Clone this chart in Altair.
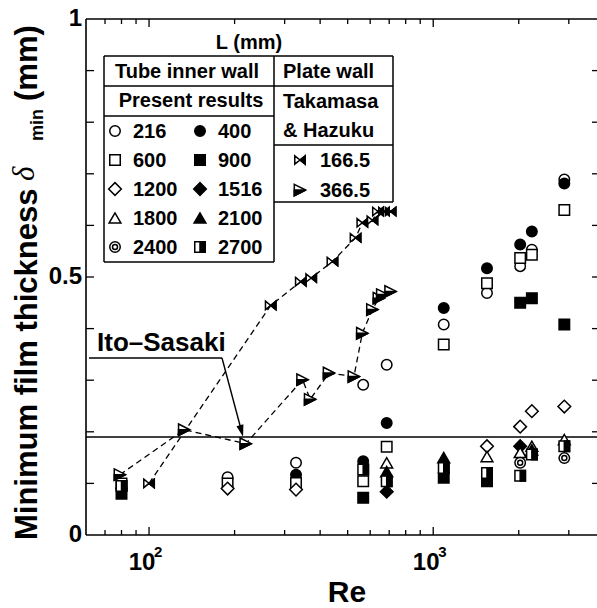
import altair as alt
import pandas as pd

FONT = "Liberation Sans"

# ---------------- data ----------------
# Present results, tube inner wall: L (mm) -> Re, delta_min (mm)
re_216 = [189, 329, 567, 686, 1089, 1546, 2023, 2224, 2893]
d_216 = [0.112, 0.140, 0.291, 0.330, 0.408, 0.469, 0.521, 0.553, 0.689]
re_400 = [80, 329, 567, 686, 1089, 1546, 2023, 2224, 2893]
d_400 = [0.090, 0.117, 0.143, 0.217, 0.440, 0.517, 0.563, 0.588, 0.681]
re_600 = [80, 189, 329, 567, 686, 1089, 1546, 2023, 2224, 2893]
d_600 = [0.100, 0.100, 0.101, 0.104, 0.171, 0.369, 0.488, 0.537, 0.543, 0.630]
re_900 = [80, 567, 1089, 1546, 2023, 2224, 2893]
d_900 = [0.080, 0.072, 0.111, 0.104, 0.450, 0.459, 0.408]
re_1200 = [189, 329, 1546, 2023, 2224, 2893]
d_1200 = [0.090, 0.088, 0.172, 0.210, 0.240, 0.249]
re_1516 = [686, 2023]
d_1516 = [0.084, 0.172]
re_1800 = [686, 1546, 2023, 2224, 2893]
d_1800 = [0.140, 0.152, 0.160, 0.172, 0.185]
re_2100 = [686, 1089, 2224]
d_2100 = [0.123, 0.150, 0.165]
re_2400 = [2023, 2893]
d_2400 = [0.140, 0.149]
re_2700 = [80, 567, 686, 1089, 1546, 2023, 2224, 2893]
d_2700 = [0.095, 0.127, 0.104, 0.130, 0.120, 0.115, 0.156, 0.172]

tube_L = [216, 400, 600, 900, 1200, 1516, 1800, 2100, 2400, 2700]

# Takamasa & Hazuku, plate wall
tk166_re = [100, 268, 342, 372, 442, 533, 563, 611, 639, 671, 708]
tk166_d = [0.100, 0.445, 0.491, 0.498, 0.530, 0.576, 0.605, 0.610, 0.627, 0.627, 0.627]
tk366_re = [79, 133, 219, 347, 369, 430, 526, 563, 611, 644, 662, 708]
tk366_d = [0.117, 0.204, 0.177, 0.301, 0.263, 0.314, 0.307, 0.391, 0.437, 0.459, 0.466, 0.472]

ito_sasaki = [0.19]

# axis ticks / labels
x_major = [100, 1000]
x_minor = [70, 80, 90, 200, 300, 400, 500, 600, 700, 800, 900, 2000, 3000]
x_label_exp = ["2", "3"]
y_ticks = [0.1, 0.2, 0.3, 0.4, 0.5, 0.6, 0.7, 0.8, 0.9]
y_label_vals = [0, 0.5, 1]
y_label_text = ["0", "0.5", "1"]

# ---------------- layout / style ----------------
W, H = 511, 516
xs = alt.Scale(type="log", domain=[60, 3770], nice=False)
ys = alt.Scale(domain=[0, 1], nice=False, zero=False)
X = lambda f: alt.X(f, scale=xs, axis=None)
Y = lambda f: alt.Y(f, scale=ys, axis=None)
dummy = pd.DataFrame({"k": [0]})

HALF_RIGHT = "M 0 -1 L 1 -1 L 1 1 L 0 1 Z"
TRI_R = "M -1 -1 L 1 0 L -1 1 Z"
TRI_R_LOW = "M -1 0 L 1 0 L -1 1 Z"
BOW = "M -1 -0.8 L 0 0 L -1 0.8 Z M 1 -0.8 L 0 0 L 1 0.8 Z"
BOW_R = "M 1 -0.8 L 0 0 L 1 0.8 Z"
ARROW = "M -0.6 -1 L 0.6 -1 L 0 1 Z"

styles = {
    216: [("circle", "white", 110)],
    400: [("circle", "black", 110)],
    600: [("square", "white", 110)],
    900: [("square", "black", 110)],
    1200: [("diamond", "white", 160)],
    1516: [("diamond", "black", 160)],
    1800: [("triangle-up", "white", 140)],
    2100: [("triangle-up", "black", 140)],
    2400: [("circle", "white", 110), ("circle", "white", 25)],
    2700: [("square", "white", 110), (HALF_RIGHT, "black", 110)],
    "166.5": [(BOW, "white", 110), (BOW_R, "black", 110)],
    "366.5": [(TRI_R, "white", 130), (TRI_R_LOW, "black", 130)],
}


def pts(chart_base, key, enc):
    out = []
    for shape, fill, size in styles[key]:
        out.append(
            chart_base.mark_point(shape=shape, size=size, filled=True, fill=fill,
                                  stroke="black", strokeWidth=1.5, opacity=1)
            .encode(**enc)
        )
    return out


def txt(s, x, y, size=20, align="left", baseline="middle", weight="bold",
        angle=0, style="normal", font=FONT):
    return alt.Chart(dummy).mark_text(
        text=s, fontSize=size, font=font, fontWeight=weight, fontStyle=style,
        align=align, baseline=baseline, angle=angle, color="black"
    ).encode(x=alt.value(x), y=alt.value(y))


def seg(x1, y1, x2, y2, w=1.5):
    return alt.Chart(dummy).mark_rule(color="black", strokeWidth=w).encode(
        x=alt.value(x1), y=alt.value(y1), x2=alt.value(x2), y2=alt.value(y2))


layers = []

# frame
layers += [seg(0, 0, 0, H, 1.6), seg(0, H, W, H, 1.6), seg(0, 0, W, 0, 1.6)]

# ticks (inward)
df_xmin = pd.DataFrame({"Re": x_minor})
df_xmaj = pd.DataFrame({"Re": x_major})
df_yt = pd.DataFrame({"v": y_ticks})
for df, ln in ((df_xmin, 5), (df_xmaj, 8)):
    layers.append(alt.Chart(df).mark_rule(color="black", strokeWidth=1.3).encode(
        x=X("Re:Q"), y=alt.value(H), y2=alt.value(H - ln)))
    layers.append(alt.Chart(df).mark_rule(color="black", strokeWidth=1.3).encode(
        x=X("Re:Q"), y=alt.value(0), y2=alt.value(ln)))
layers.append(alt.Chart(df_yt).mark_rule(color="black", strokeWidth=1.3).encode(
    y=Y("v:Q"), x=alt.value(0), x2=alt.value(8)))
layers.append(alt.Chart(df_yt).mark_rule(color="black", strokeWidth=1.3).encode(
    y=Y("v:Q"), x=alt.value(W - 5), x2=alt.value(W)))

# tick labels
df_yl = pd.DataFrame({"v": y_label_vals, "t": y_label_text})
layers.append(alt.Chart(df_yl).mark_text(
    font=FONT, fontSize=24, fontWeight="bold", align="right", baseline="middle",
    color="black").encode(y=Y("v:Q"), x=alt.value(-4), text="t:N"))
df_xl = pd.DataFrame({"Re": x_major, "base": ["10", "10"], "exp": x_label_exp})
layers.append(alt.Chart(df_xl).mark_text(
    font=FONT, fontSize=24, fontWeight="bold", align="center", baseline="alphabetic",
    dx=-7, color="black").encode(x=X("Re:Q"), y=alt.value(551), text="base:N"))
layers.append(alt.Chart(df_xl).mark_text(
    font=FONT, fontSize=15, fontWeight="bold", align="left", baseline="alphabetic",
    dx=5, color="black").encode(x=X("Re:Q"), y=alt.value(538), text="exp:N"))

# axis titles
layers.append(txt("Re", 261, 583, size=30, align="center", baseline="alphabetic"))
layers.append(txt("Minimum film thickness", -49, 521, size=31, angle=270,
                  baseline="alphabetic"))
layers.append(txt("δ", -52, 162, size=31, angle=270, baseline="alphabetic",
                  weight="normal", style="italic", font="Liberation Serif"))
layers.append(txt("min", -43, 122, size=18, angle=270, baseline="alphabetic"))
layers.append(txt("(mm)", -49, 82, size=31, angle=270, baseline="alphabetic"))

# Ito-Sasaki line and annotation
layers.append(alt.Chart(pd.DataFrame({"d": ito_sasaki})).mark_rule(
    color="black", strokeWidth=1.4).encode(y=Y("d:Q")))
layers.append(txt("Ito\u2013Sasaki", 11, 324, size=26))
layers.append(seg(3, 339, 136, 339, 1.4))
layers.append(seg(136, 339, 155.5, 412, 1.4))
layers.append(alt.Chart(dummy).mark_point(
    shape=ARROW, size=144, filled=True, color="black", opacity=1, angle=345
).encode(x=alt.value(155.5), y=alt.value(412)))

# Takamasa & Hazuku dashed lines
df_tk = pd.concat([
    pd.DataFrame({"Re": tk166_re, "d": tk166_d, "s": "166.5"}),
    pd.DataFrame({"Re": tk366_re, "d": tk366_d, "s": "366.5"}),
])
layers.append(alt.Chart(df_tk).mark_line(
    color="black", strokeWidth=1.3, strokeDash=[6, 4]
).encode(x=X("Re:Q"), y=Y("d:Q"), detail="s:N"))

# tube data markers
tube_re = [re_216, re_400, re_600, re_900, re_1200, re_1516, re_1800, re_2100,
           re_2400, re_2700]
tube_d = [d_216, d_400, d_600, d_900, d_1200, d_1516, d_1800, d_2100, d_2400,
          d_2700]
for L, r, d in zip(tube_L, tube_re, tube_d):
    base = alt.Chart(pd.DataFrame({"Re": r, "d": d}))
    layers += pts(base, L, dict(x=X("Re:Q"), y=Y("d:Q")))

# Takamasa markers
for key, r, d in (("166.5", tk166_re, tk166_d), ("366.5", tk366_re, tk366_d)):
    base = alt.Chart(pd.DataFrame({"Re": r, "d": d}))
    layers += pts(base, key, dict(x=X("Re:Q"), y=Y("d:Q")))

# ---------------- legend table ----------------
layers += [
    seg(18, 37, 307, 37), seg(18, 67, 307, 67), seg(18, 97, 188, 97),
    seg(188, 126, 307, 126), seg(188, 183, 307, 183), seg(18, 243, 188, 243),
    seg(18, 37, 18, 243), seg(188, 37, 188, 243), seg(307, 37, 307, 183),
]
layers.append(txt("L (mm)", 163, 24, size=20, align="center"))
layers.append(txt("Tube inner wall", 101, 53, size=20, align="center"))
layers.append(txt("Present results", 105, 82, size=20, align="center"))
layers.append(txt("Plate wall", 197, 53, size=20))
layers.append(txt("Takamasa", 197, 83, size=20))
layers.append(txt("& Hazuku", 197, 112, size=20))
for i, L in enumerate(tube_L):
    col, row = i % 2, i // 2
    sx = 29 + col * 85
    sy = 112 + row * 29
    layers += pts(alt.Chart(dummy), L, dict(x=alt.value(sx), y=alt.value(sy)))
    layers.append(txt(str(L), sx + 18, sy + 1, size=20))
for j, key in enumerate(["166.5", "366.5"]):
    sy = 141 + j * 30
    layers += pts(alt.Chart(dummy), key, dict(x=alt.value(214), y=alt.value(sy)))
    layers.append(txt(key, 234, sy + 1, size=20))

chart = alt.layer(*layers).properties(
    width=W, height=H,
    padding={"left": 86, "top": 19, "right": 0, "bottom": 73},
    autosize=alt.AutoSizeParams(type="none"),
).configure_view(stroke=None)

chart.save("out.html", embed_options={"renderer": "svg", "actions": False})
